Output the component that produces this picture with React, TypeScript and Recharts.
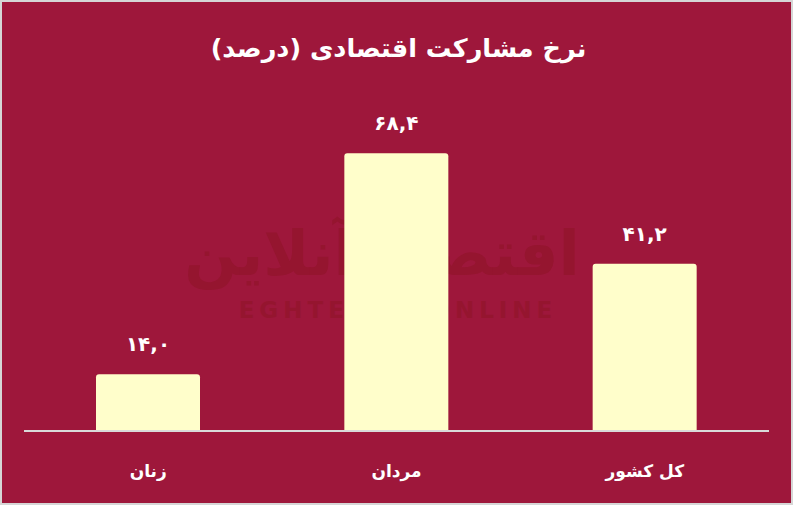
import React from 'react';
import { BarChart, Bar, XAxis, YAxis, LabelList } from 'recharts';

const categories = ['زنان', 'مردان', 'کل کشور'];
const values = [14.0, 68.4, 41.2];
const titleText = 'نرخ مشارکت اقتصادی (درصد)';
const watermarkFa = 'اقتصاد آنلاین';
const watermarkEn = 'EGHTESAD ONLINE';

const data = categories.map((c, i) => ({ name: c, value: values[i] }));

const BG = '#9E173B';
const BAR = '#FFFECB';
const FONT = '"DejaVu Sans", sans-serif';

const toFa = (v: number) =>
  v
    .toFixed(1)
    .replace(/\d/g, (d) => '۰۱۲۳۴۵۶۷۸۹'[Number(d)])
    .replace('.', ',');

const Tick = (p: any) => (
  <text
    x={p.x}
    y={p.y + 40}
    textAnchor="middle"
    dominantBaseline="central"
    fill="#ffffff"
    fontFamily={FONT}
    fontWeight="bold"
    fontSize={17}
  >
    {p.payload.value}
  </text>
);

const ValueLabel = (p: any) => {
  const { x, y, width, value } = p;
  return (
    <text
      x={Number(x) + Number(width) / 2}
      y={Number(y) - 30}
      textAnchor="middle"
      dominantBaseline="central"
      fill="#ffffff"
      fontFamily={FONT}
      fontWeight="bold"
      fontSize={20}
    >
      {toFa(Number(value))}
    </text>
  );
};

export default function App() {
  return (
    <div style={{ position: 'absolute', left: 0, top: 0, width: 793, height: 505, background: '#d6d6d6' }}>
      <div style={{ position: 'absolute', left: 2, top: 2, width: 789, height: 501, background: BG, overflow: 'hidden' }}>
        <div
          style={{
            position: 'absolute',
            left: 0,
            width: 793,
            top: 28,
            textAlign: 'center',
            direction: 'rtl',
            color: '#ffffff',
            fontFamily: FONT,
            fontWeight: 'bold',
            fontSize: 25.5,
            lineHeight: '36px',
          }}
        >
          {titleText}
        </div>
        <div
          style={{
            position: 'absolute',
            left: 180,
            width: 400,
            top: 212,
            textAlign: 'center',
            direction: 'rtl',
            color: '#95152F',
            fontFamily: FONT,
            fontWeight: 'bold',
            fontSize: 62,
            lineHeight: '80px',
          }}
        >
          {watermarkFa}
        </div>
        <div
          style={{
            position: 'absolute',
            left: 196,
            width: 400,
            top: 294,
            textAlign: 'center',
            color: '#95152F',
            fontFamily: FONT,
            fontWeight: 'bold',
            fontSize: 23,
            letterSpacing: 5,
            lineHeight: '28px',
          }}
        >
          {watermarkEn}
        </div>
        <div style={{ position: 'absolute', left: 0, top: 0 }}>
          <BarChart
            width={789}
            height={501}
            data={data}
            margin={{ top: 104, right: 22, bottom: 42, left: 22 }}
          >
            <XAxis
              dataKey="name"
              axisLine={{ stroke: '#d9d9d9', strokeWidth: 2 }}
              tickLine={false}
              tickSize={0}
              tickMargin={0}
              tick={<Tick />}
              interval={0}
            />
            <YAxis hide domain={[0, 80]} />
            <Bar dataKey="value" fill={BAR} barSize={104} radius={[3, 3, 0, 0]} isAnimationActive={false}>
              <LabelList dataKey="value" content={<ValueLabel />} />
            </Bar>
          </BarChart>
        </div>
      </div>
    </div>
  );
}
